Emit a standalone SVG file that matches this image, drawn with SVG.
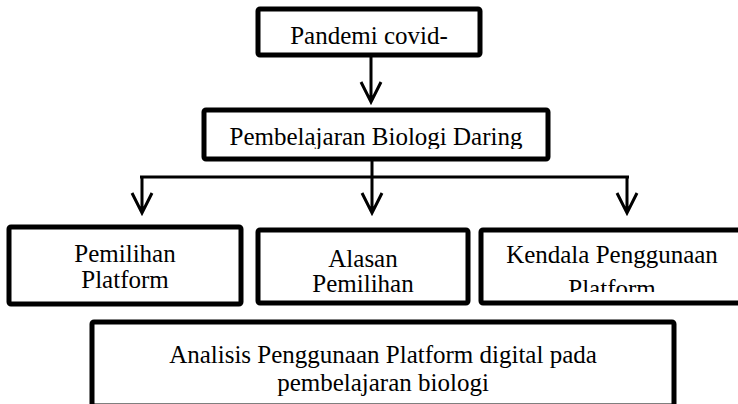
<svg xmlns="http://www.w3.org/2000/svg" width="738" height="404" viewBox="0 0 738 404">
<style>
.box{fill:#fff;stroke:#000;stroke-width:5;}
.t{font-family:"Liberation Serif","Times New Roman",serif;font-size:25px;fill:#000;text-anchor:middle;}
.c{fill:none;stroke:#000;stroke-width:3;}
</style>
<defs>
<clipPath id="clip2"><rect x="0" y="0" width="738" height="149"/></clipPath>
<clipPath id="clipC"><rect x="0" y="0" width="738" height="292"/></clipPath>
</defs>
<rect width="738" height="404" fill="#fff"/>
<g id="connectors">
<path class="c" d="M371 55 V102 M361 82 L371 102 L381 82"/>
<path class="c" d="M372 159 V177 M140 177 H629 M142 177 V213 M132 193 L142 213 L152 193 M372 177 V213 M362 193 L372 213 L382 193 M627 177 V213 M617 193 L627 213 L637 193"/>
</g>
<g id="pandemi">
<rect class="box" x="258" y="9" width="222" height="46" rx="2"/>
<text class="t" x="369" y="44">Pandemi covid-</text>
</g>
<g id="daring">
<rect class="box" x="204" y="110" width="344" height="49" rx="2"/>
<text class="t" x="376" y="145" clip-path="url(#clip2)">Pembelajaran Biologi Daring</text>
</g>
<g id="pemilihan">
<rect class="box" x="9" y="227" width="232" height="77" rx="2"/>
<text class="t" x="125" y="262">Pemilihan</text>
<text class="t" x="125" y="288">Platform</text>
</g>
<g id="alasan">
<rect class="box" x="258" y="230" width="210" height="73" rx="2"/>
<text class="t" x="363" y="267">Alasan</text>
<text class="t" x="363" y="292">Pemilihan</text>
</g>
<g id="kendala">
<rect class="box" x="481" y="230" width="270" height="73" rx="2"/>
<text class="t" x="612" y="263">Kendala Penggunaan</text>
<text class="t" x="612" y="297" clip-path="url(#clipC)">Platform</text>
</g>
<g id="analisis">
<rect class="box" x="92" y="322" width="582" height="84" rx="2"/>
<text class="t" x="383" y="363">Analisis Penggunaan Platform digital pada</text>
<text class="t" x="383" y="391">pembelajaran biologi</text>
</g>
</svg>
